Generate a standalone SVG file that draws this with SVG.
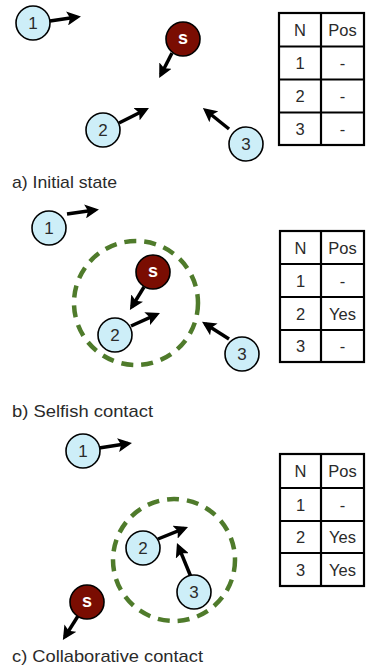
<svg xmlns="http://www.w3.org/2000/svg" width="366" height="671" viewBox="0 0 366 671">
<style>
.n{fill:#cdeef8;stroke:#000;stroke-width:1.6}
.s{fill:#7a0d02;stroke:#000;stroke-width:1.6}
.t{font-family:"Liberation Sans",Arial,sans-serif;font-size:17px;fill:#2a2a2a;text-anchor:middle;dominant-baseline:central}
.st{font-family:"Liberation Sans",Arial,sans-serif;font-size:18px;font-weight:bold;fill:#fff;text-anchor:middle;dominant-baseline:central}
.a{stroke:#000;stroke-width:3.5;fill:none;marker-end:url(#ah)}
.r{stroke:#4f7b2b;stroke-width:4.5;fill:none;stroke-dasharray:12 8}
.tb{fill:none;stroke:#000;stroke-width:2.2}
.tt{font-family:"Liberation Sans",Arial,sans-serif;font-size:16.5px;fill:#2a2a2a;text-anchor:middle;dominant-baseline:central}
.lb{font-family:"Liberation Sans",Arial,sans-serif;font-size:17px;fill:#2a2a2a}
</style>
<defs>
<marker id="ah" markerUnits="userSpaceOnUse" markerWidth="16" markerHeight="14" refX="10" refY="7" orient="auto">
<path d="M0,0 L14,7 L0,14 L3,7 z" fill="#000"/>
</marker>
</defs>
<rect width="366" height="671" fill="#fff"/>

<g id="ranges">
<circle class="r" cx="136" cy="303" r="62"/>
<circle class="r" cx="174" cy="560" r="61"/>
</g>

<g id="connectors">
<line class="a" x1="50" y1="21" x2="77" y2="17"/>
<line class="a" x1="172" y1="53" x2="161" y2="74.5"/>
<line class="a" x1="119" y1="123" x2="145.4" y2="109.7"/>
<line class="a" x1="229" y1="129" x2="206" y2="110.5"/>
<line class="a" x1="67" y1="214" x2="95" y2="210"/>
<line class="a" x1="144" y1="287" x2="132" y2="306.6"/>
<line class="a" x1="131" y1="326" x2="156.3" y2="314.6"/>
<line class="a" x1="229" y1="339" x2="205.4" y2="324"/>
<line class="a" x1="99" y1="448" x2="128" y2="443.6"/>
<line class="a" x1="158" y1="539" x2="184.3" y2="528.4"/>
<line class="a" x1="191" y1="577" x2="178.5" y2="546.7"/>
<line class="a" x1="78" y1="616" x2="65" y2="636.6"/>
</g>

<g id="a-node1"><circle class="n" cx="33" cy="23" r="17"/><text class="t" x="33" y="23">1</text></g>
<g id="a-nodeS"><circle class="s" cx="183" cy="39" r="17"/><text class="st" x="183" y="38">s</text></g>
<g id="a-node2"><circle class="n" cx="103" cy="130" r="17"/><text class="t" x="103" y="130">2</text></g>
<g id="a-node3"><circle class="n" cx="246" cy="144" r="17"/><text class="t" x="246" y="144">3</text></g>

<g id="b-node1"><circle class="n" cx="49" cy="228" r="17"/><text class="t" x="49" y="228">1</text></g>
<g id="b-nodeS"><circle class="s" cx="153" cy="272" r="17"/><text class="st" x="153" y="271">s</text></g>
<g id="b-node2"><circle class="n" cx="115" cy="335" r="17"/><text class="t" x="115" y="335">2</text></g>
<g id="b-node3"><circle class="n" cx="242" cy="354" r="17"/><text class="t" x="242" y="354">3</text></g>

<g id="c-node1"><circle class="n" cx="83" cy="451" r="17"/><text class="t" x="83" y="451">1</text></g>
<g id="c-node2"><circle class="n" cx="143" cy="548" r="17"/><text class="t" x="143" y="548">2</text></g>
<g id="c-node3"><circle class="n" cx="194" cy="592" r="17"/><text class="t" x="194" y="592">3</text></g>
<g id="c-nodeS"><circle class="s" cx="87" cy="602" r="17"/><text class="st" x="87" y="601">s</text></g>

<g id="table-a">
<rect class="tb" x="279" y="13" width="85" height="132"/>
<line class="tb" x1="321" y1="13" x2="321" y2="145"/>
<line class="tb" x1="279" y1="46.5" x2="364" y2="46.5"/>
<line class="tb" x1="279" y1="79.5" x2="364" y2="79.5"/>
<line class="tb" x1="279" y1="112.5" x2="364" y2="112.5"/>
<text class="tt" x="300" y="30">N</text><text class="tt" x="342.5" y="30">Pos</text>
<text class="tt" x="300" y="63">1</text><text class="tt" x="342.5" y="63">-</text>
<text class="tt" x="300" y="96">2</text><text class="tt" x="342.5" y="96">-</text>
<text class="tt" x="300" y="129">3</text><text class="tt" x="342.5" y="129">-</text>
</g>

<g id="table-b">
<rect class="tb" x="280" y="231" width="84" height="131"/>
<line class="tb" x1="321" y1="231" x2="321" y2="362"/>
<line class="tb" x1="280" y1="264" x2="364" y2="264"/>
<line class="tb" x1="280" y1="297" x2="364" y2="297"/>
<line class="tb" x1="280" y1="330" x2="364" y2="330"/>
<text class="tt" x="300.5" y="247.5">N</text><text class="tt" x="342.5" y="247.5">Pos</text>
<text class="tt" x="300.5" y="280.5">1</text><text class="tt" x="342.5" y="280.5">-</text>
<text class="tt" x="300.5" y="313.5">2</text><text class="tt" x="342.5" y="313.5">Yes</text>
<text class="tt" x="300.5" y="346">3</text><text class="tt" x="342.5" y="346">-</text>
</g>

<g id="table-c">
<rect class="tb" x="280" y="454" width="84" height="132"/>
<line class="tb" x1="321" y1="454" x2="321" y2="586"/>
<line class="tb" x1="280" y1="488" x2="364" y2="488"/>
<line class="tb" x1="280" y1="521" x2="364" y2="521"/>
<line class="tb" x1="280" y1="553" x2="364" y2="553"/>
<text class="tt" x="300.5" y="471">N</text><text class="tt" x="342.5" y="471">Pos</text>
<text class="tt" x="300.5" y="504.5">1</text><text class="tt" x="342.5" y="504.5">-</text>
<text class="tt" x="300.5" y="537">2</text><text class="tt" x="342.5" y="537">Yes</text>
<text class="tt" x="300.5" y="569.5">3</text><text class="tt" x="342.5" y="569.5">Yes</text>
</g>

<g id="labels">
<text class="lb" x="12" y="188" textLength="105" lengthAdjust="spacingAndGlyphs">a) Initial state</text>
<text class="lb" x="12" y="417" textLength="141" lengthAdjust="spacingAndGlyphs">b) Selfish contact</text>
<text class="lb" x="12" y="662" textLength="191" lengthAdjust="spacingAndGlyphs">c) Collaborative contact</text>
</g>
</svg>
